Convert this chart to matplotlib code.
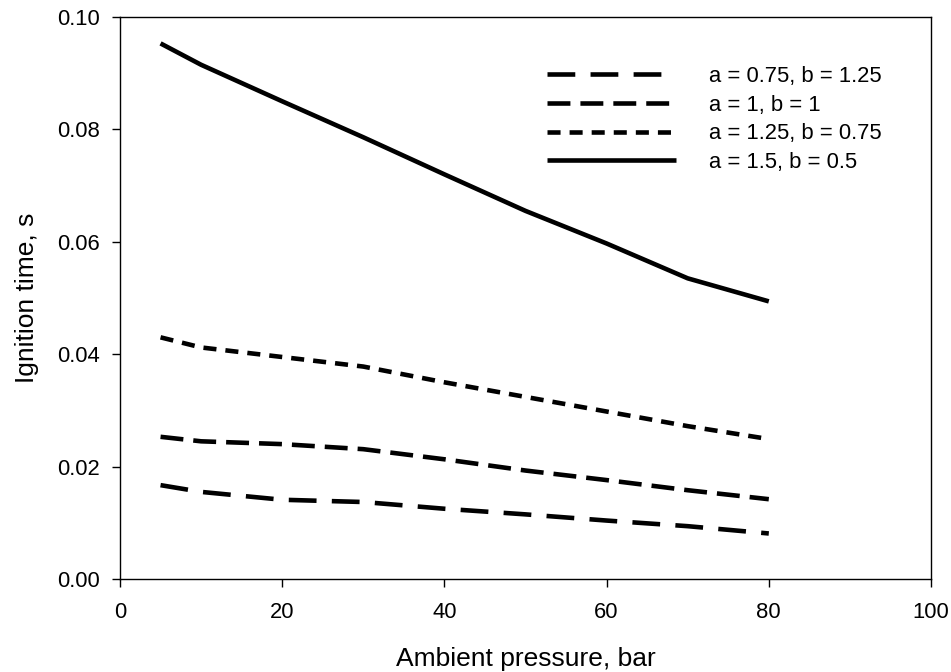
import matplotlib
matplotlib.use("Agg")
import matplotlib.pyplot as plt

plt.rcParams['font.family'] = ['Liberation Sans', 'DejaVu Sans']
plt.rcParams['lines.scale_dashes'] = False

pressure = [5, 10, 20, 30, 40, 50, 60, 70, 80]

t_a075_b125 = [0.0167, 0.0155, 0.0141, 0.0137, 0.0125, 0.0115, 0.0104, 0.0094, 0.0081]
t_a100_b100 = [0.0253, 0.0245, 0.0240, 0.0231, 0.0213, 0.0193, 0.0176, 0.0158, 0.0142]
t_a125_b075 = [0.0430, 0.0412, 0.0395, 0.0378, 0.0350, 0.0324, 0.0298, 0.0272, 0.0249]
t_a150_b050 = [0.0953, 0.0915, 0.0850, 0.0786, 0.0720, 0.0655, 0.0597, 0.0535, 0.0494]

labels = ["a = 0.75, b = 1.25", "a = 1, b = 1", "a = 1.25, b = 0.75", "a = 1.5, b = 0.5"]
series = [t_a075_b125, t_a100_b100, t_a125_b075, t_a150_b050]
dash_styles = [(0, (20, 11)), (0, (16.5, 7.2)), (0, (9.4, 6.5)), '-']

x_ticks = [0, 20, 40, 60, 80, 100]
y_ticks = [0.00, 0.02, 0.04, 0.06, 0.08, 0.10]

fig = plt.figure(figsize=(9.51, 6.72), dpi=100)
ax = fig.add_axes([120 / 951, 1 - 579 / 672, 811 / 951, 562 / 672])

for vals, lab, ls in zip(series, labels, dash_styles):
    ax.plot(pressure, vals, color='black', linewidth=3.3, linestyle=ls,
            dash_capstyle='butt', solid_capstyle='butt', label=lab)

ax.set_xlim(0, 100)
ax.set_ylim(0, 0.10)
ax.set_xticks(x_ticks)
ax.set_yticks(y_ticks)
ax.set_xticklabels([str(v) for v in x_ticks])
ax.set_yticklabels([f"{v:.2f}" for v in y_ticks])

fs = 15.8
fs_label = 19
ax.tick_params(axis='both', direction='out', length=5.8, width=1.0,
               labelsize=fs, top=False, right=False)
ax.tick_params(axis='x', pad=11)
ax.tick_params(axis='y', pad=8.5)
for sp in ax.spines.values():
    sp.set_linewidth(1.0)

ax.set_xlabel("Ambient pressure, bar", fontsize=fs_label, labelpad=17)
ax.set_ylabel("Ignition time, s", fontsize=fs_label, labelpad=13)

ax.legend(loc='upper left', bbox_to_anchor=(0.5265, 0.913), frameon=False,
          fontsize=fs, borderpad=0, borderaxespad=0, handlelength=5.9,
          handletextpad=1.5, labelspacing=0.35)

fig.savefig("out.png", dpi=100)
